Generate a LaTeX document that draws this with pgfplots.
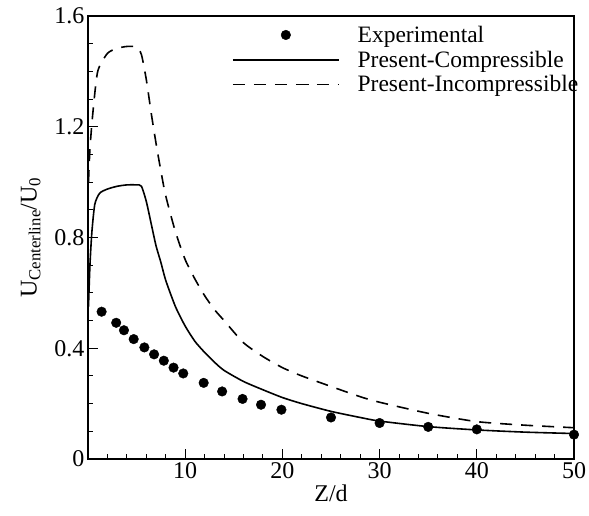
\documentclass[border=0pt]{standalone}
\usepackage{fontspec}
\setmainfont{Liberation Serif}
\usepackage{pgfplots}
\pgfplotsset{compat=1.18}
\begin{document}
\begin{tikzpicture}
\useasboundingbox (-88pt,-56pt) rectangle (501pt,459pt);
\begin{axis}[
  scale only axis, width=486pt, height=443pt,
  xmin=0, xmax=50, ymin=0, ymax=1.6,
  xtick={0,10,20,30,40,50}, xticklabels={,10,20,30,40,50},
  ytick={0,0.4,0.8,1.2,1.6},
  minor x tick num=4, minor y tick num=3,
  xtick pos=left, ytick pos=left, tick align=inside,
  major tick length=10pt, minor tick length=5pt,
  axis line style={line width=1.5pt},
  every tick/.style={line width=1pt, black},
  /pgf/number format/assume math mode=true,
  yticklabel style={/pgf/number format/fixed, /pgf/number format/fixed zerofill=false, /pgf/number format/precision=1},
  ticklabel style={font=\fontsize{24}{28}\selectfont},
  xlabel={Z/d}, ylabel={U\textsubscript{Centerline}/U\textsubscript{0}},
  label style={font=\fontsize{24}{28}\selectfont},
  xlabel style={at={(axis description cs:0.5,-0.077)}, anchor=center},
  ylabel style={at={(axis description cs:-0.118,0.5)}, anchor=center},
  legend style={draw=none, fill=none, at={(axis description cs:0.296,0.98)}, anchor=north west,
    font=\fontsize{23.5}{25}\selectfont, inner sep=0pt, row sep=5pt,
    nodes={inner sep=1pt},
    /tikz/every odd column/.append style={column sep=17pt}},
  legend cell align=left,
  legend image code/.code={\draw[mark repeat=2,mark phase=2,#1] plot coordinates {(0pt,0pt) (53pt,0pt) (106pt,0pt)};},
]
\addplot[only marks, mark=*, mark size=4.8pt, black] coordinates {
(1.4,0.532) (2.9,0.492) (3.7,0.465) (4.7,0.433) (5.8,0.403) (6.8,0.378) (7.8,0.355) (8.8,0.330) (9.8,0.309)
(11.9,0.275) (13.8,0.244) (15.9,0.217) (17.8,0.196) (19.9,0.178) (25,0.150) (30,0.130) (35,0.116) (40,0.107) (50,0.088)};
\addlegendentry{Experimental}
\addplot[black, line width=1.6pt, smooth, tension=0.4] coordinates {
(0.05,0.55) (0.2,0.70) (0.4,0.82) (0.7,0.92) (1.2,0.96) (2,0.975) (3,0.985) (4,0.99) (5,0.99) (5.5,0.985)
(6,0.93) (6.5,0.85) (7,0.77) (7.5,0.71) (8,0.645) (9,0.55) (10,0.48) (11,0.425) (12,0.385) (13,0.35) (14,0.32)
(16,0.28) (18,0.25) (20,0.222) (22,0.20) (25,0.172) (28,0.15) (30,0.137) (35,0.117) (40,0.105) (45,0.097) (50,0.092)};
\addlegendentry{Present-Compressible}
\addplot[black, line width=1.6pt, dash pattern=on 12pt off 9pt, smooth, tension=0.4] coordinates {
(0.05,1.0) (0.2,1.12) (0.5,1.25) (1,1.40) (2,1.465) (3,1.483) (4,1.49) (5,1.488) (5.5,1.46) (6,1.37) (6.5,1.25)
(7,1.14) (7.5,1.04) (8,0.95) (9,0.82) (10,0.72) (11,0.65) (12,0.59) (13,0.54) (14,0.50) (16,0.42) (18,0.37)
(20,0.33) (22,0.30) (25,0.262) (28,0.225) (30,0.205) (35,0.165) (40,0.135) (45,0.122) (50,0.113)};
\addlegendentry{Present-Incompressible}
\end{axis}
\end{tikzpicture}
\end{document}
